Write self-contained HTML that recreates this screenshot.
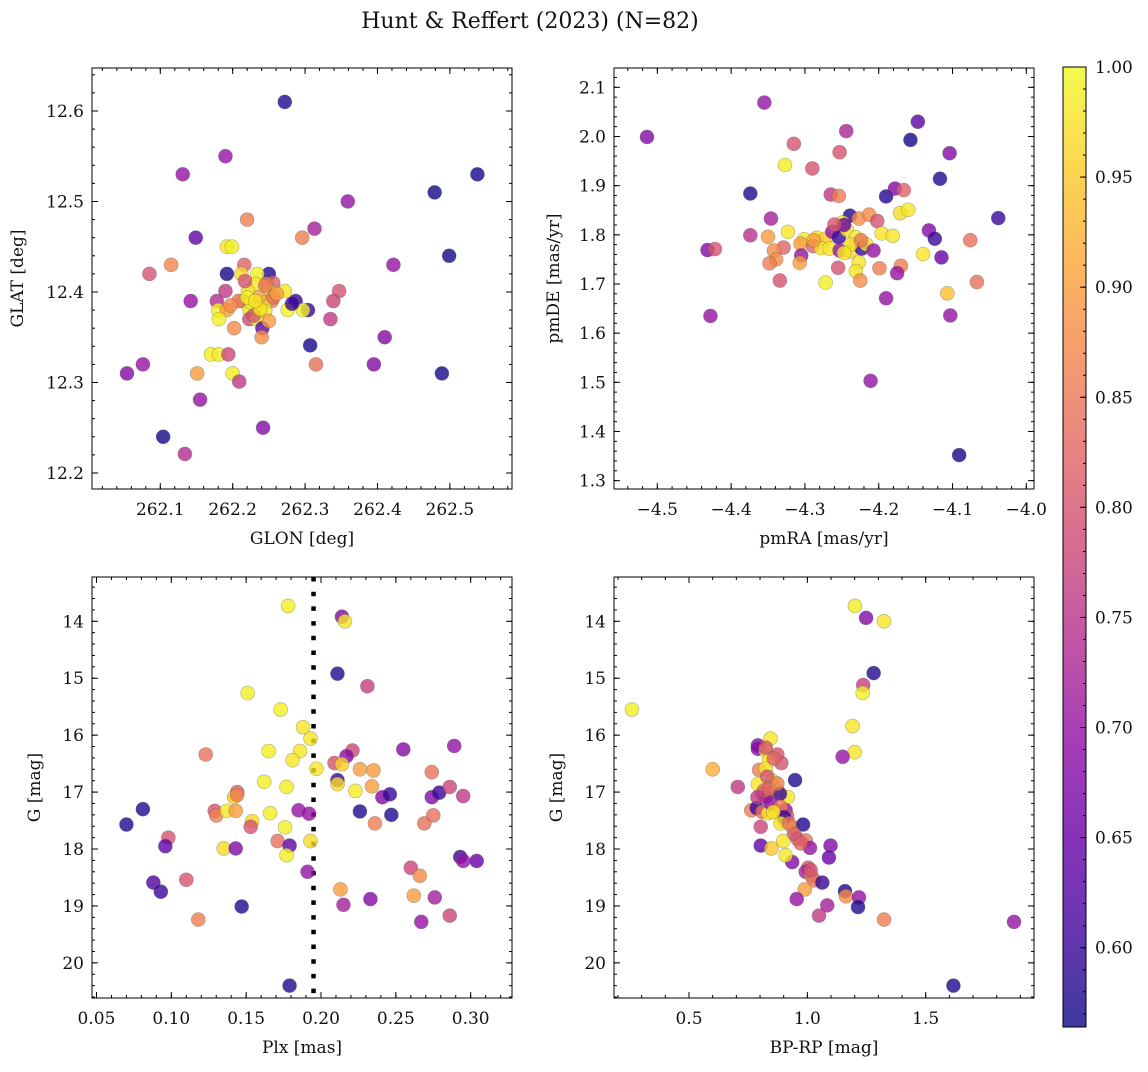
<!DOCTYPE html>
<html><head><meta charset="utf-8">
<style>
html,body{margin:0;padding:0;background:#fff;}
svg text{font-family:"DejaVu Serif","Liberation Serif",serif;fill:#111;}
</style></head>
<body>
<svg id="fig" width="1148" height="1067" viewBox="0 0 1148 1067" xmlns="http://www.w3.org/2000/svg">
<rect width="1148" height="1067" fill="#fff"/>
<text x="530" y="28" font-size="22" text-anchor="middle">Hunt &amp; Reffert (2023) (N=82)</text>
</svg>
<script>
// ---------- Panel 1: GLON vs GLAT ----------
const p1Glon=[262.272,262.190,262.131,262.538,262.479,262.359,262.220,262.313,262.296,262.149,262.192,262.199,262.499,262.115,262.422,262.085,262.192,262.216,262.212,262.250,262.234,262.256,262.246,262.232,262.190,262.221,262.250,262.272,262.347,262.142,262.178,262.214,262.254,262.287,262.339,262.245,262.180,262.192,262.223,262.237,262.276,262.304,262.297,262.223,262.181,262.233,262.335,262.241,262.202,262.240,262.410,262.307,262.170,262.181,262.194,262.315,262.395,262.076,262.054,262.151,262.200,262.489,262.209,262.155,262.242,262.104,262.134,262.226,262.236,262.217,262.245,262.256,262.229,262.208,262.250,262.282,262.238,262.197,262.220,262.231,262.261,262.245];
const p1Glat=[12.610,12.550,12.530,12.530,12.510,12.500,12.480,12.470,12.460,12.460,12.450,12.450,12.440,12.430,12.430,12.420,12.420,12.430,12.420,12.420,12.420,12.410,12.409,12.409,12.401,12.401,12.401,12.401,12.401,12.390,12.390,12.390,12.390,12.390,12.390,12.389,12.380,12.380,12.380,12.380,12.380,12.380,12.380,12.370,12.370,12.370,12.370,12.360,12.360,12.350,12.350,12.341,12.331,12.331,12.331,12.320,12.320,12.320,12.310,12.310,12.310,12.310,12.301,12.281,12.250,12.240,12.221,12.388,12.394,12.412,12.379,12.394,12.374,12.390,12.368,12.387,12.381,12.385,12.394,12.390,12.398,12.407];
const p1Prob=[0.58,0.70,0.70,0.57,0.57,0.70,0.86,0.72,0.86,0.64,0.98,0.99,0.57,0.87,0.70,0.80,0.57,0.82,0.97,0.58,0.99,0.82,0.88,0.98,0.76,0.98,0.98,0.98,0.80,0.70,0.74,0.86,0.86,0.60,0.78,0.98,0.99,0.90,0.98,0.99,0.99,0.60,0.99,0.78,0.99,0.99,0.76,0.64,0.88,0.88,0.68,0.57,0.99,0.99,0.78,0.84,0.68,0.70,0.68,0.90,0.99,0.57,0.76,0.70,0.68,0.57,0.74,0.99,0.90,0.80,0.98,0.84,0.80,0.85,0.90,0.60,0.98,0.88,0.99,0.98,0.90,0.85];
const p1XTicks=[262.1,262.2,262.3,262.4,262.5];
const p1XTickLabels=["262.1","262.2","262.3","262.4","262.5"];
const p1YTicks=[12.2,12.3,12.4,12.5,12.6];
const p1YTickLabels=["12.2","12.3","12.4","12.5","12.6"];

// ---------- Panel 2: pmRA vs pmDE ----------
const p2PmRA=[-4.355,-4.514,-4.147,-4.244,-4.157,-4.315,-4.104,-4.253,-4.327,-4.290,-4.117,-4.374,-4.265,-4.254,-4.190,-4.178,-4.166,-4.171,-4.160,-4.038,-4.346,-4.239,-4.227,-4.213,-4.202,-4.249,-4.374,-4.350,-4.323,-4.301,-4.284,-4.272,-4.263,-4.254,-4.243,-4.231,-4.196,-4.181,-4.132,-4.124,-4.076,-4.432,-4.422,-4.329,-4.342,-4.306,-4.289,-4.278,-4.267,-4.253,-4.239,-4.223,-4.217,-4.207,-4.140,-4.115,-4.305,-4.339,-4.348,-4.307,-4.227,-4.255,-4.199,-4.170,-4.175,-4.231,-4.334,-4.272,-4.225,-4.067,-4.107,-4.190,-4.428,-4.103,-4.211,-4.091,-4.247,-4.238,-4.260,-4.288,-4.224,-4.247];
const p2PmDE=[2.069,1.999,2.030,2.011,1.993,1.985,1.966,1.968,1.942,1.935,1.914,1.884,1.882,1.879,1.878,1.894,1.891,1.844,1.851,1.834,1.833,1.839,1.833,1.841,1.828,1.825,1.799,1.796,1.806,1.791,1.794,1.792,1.806,1.795,1.810,1.795,1.803,1.798,1.809,1.792,1.789,1.769,1.771,1.774,1.768,1.782,1.777,1.773,1.772,1.768,1.766,1.772,1.781,1.768,1.761,1.754,1.758,1.750,1.742,1.743,1.744,1.733,1.732,1.737,1.722,1.726,1.707,1.703,1.707,1.704,1.681,1.671,1.635,1.636,1.503,1.352,1.820,1.780,1.821,1.789,1.789,1.763];
const p2Prob=[0.70,0.68,0.63,0.73,0.57,0.80,0.68,0.80,0.99,0.80,0.58,0.58,0.76,0.86,0.58,0.68,0.82,0.97,0.98,0.60,0.72,0.58,0.88,0.88,0.80,0.98,0.75,0.90,0.98,0.98,0.98,0.95,0.70,0.60,0.98,0.98,0.98,0.98,0.68,0.60,0.84,0.68,0.80,0.82,0.88,0.90,0.82,0.98,0.98,0.70,0.97,0.60,0.98,0.70,0.98,0.65,0.70,0.88,0.86,0.90,0.98,0.80,0.86,0.86,0.70,0.98,0.80,0.99,0.88,0.84,0.94,0.70,0.70,0.70,0.70,0.57,0.65,0.97,0.80,0.90,0.85,0.98];
const p2XTicks=[-4.5,-4.4,-4.3,-4.2,-4.1,-4.0];
const p2XTickLabels=["−4.5","−4.4","−4.3","−4.2","−4.1","−4.0"];
const p2YTicks=[1.3,1.4,1.5,1.6,1.7,1.8,1.9,2.0,2.1];
const p2YTickLabels=["1.3","1.4","1.5","1.6","1.7","1.8","1.9","2.0","2.1"];

// ---------- Panel 3: Plx vs G ----------
const p3Plx=[0.178,0.214,0.216,0.211,0.231,0.151,0.173,0.188,0.193,0.123,0.165,0.186,0.181,0.197,0.221,0.217,0.209,0.214,0.255,0.289,0.226,0.235,0.274,0.162,0.177,0.211,0.211,0.223,0.234,0.144,0.142,0.241,0.246,0.274,0.279,0.286,0.295,0.081,0.070,0.129,0.130,0.137,0.143,0.166,0.185,0.192,0.154,0.153,0.176,0.226,0.247,0.236,0.269,0.275,0.098,0.096,0.135,0.143,0.171,0.179,0.177,0.193,0.191,0.293,0.295,0.304,0.260,0.266,0.088,0.093,0.110,0.213,0.233,0.215,0.262,0.276,0.147,0.118,0.267,0.286,0.179,0.144];
const p3G=[13.73,13.92,14.00,14.92,15.14,15.26,15.55,15.86,16.06,16.34,16.28,16.28,16.44,16.59,16.27,16.37,16.49,16.51,16.25,16.19,16.60,16.62,16.65,16.82,16.91,16.79,16.86,16.98,16.90,17.00,17.09,17.09,17.04,17.09,17.01,16.91,17.07,17.30,17.57,17.33,17.41,17.33,17.33,17.37,17.32,17.38,17.51,17.61,17.62,17.34,17.40,17.55,17.55,17.41,17.80,17.95,17.99,17.99,17.86,17.94,18.11,17.86,18.40,18.14,18.21,18.21,18.33,18.47,18.59,18.75,18.54,18.71,18.88,18.98,18.82,18.85,19.01,19.24,19.28,19.17,20.40,17.05];
const p3Prob=[0.99,0.68,0.98,0.58,0.77,0.99,0.99,0.98,0.98,0.84,0.99,0.98,0.98,0.98,0.78,0.68,0.80,0.96,0.68,0.70,0.90,0.90,0.84,0.99,0.99,0.60,0.97,0.99,0.90,0.82,0.95,0.68,0.60,0.68,0.60,0.78,0.76,0.58,0.58,0.80,0.86,0.98,0.90,0.99,0.70,0.70,0.97,0.80,0.99,0.58,0.58,0.86,0.84,0.84,0.80,0.64,0.97,0.68,0.84,0.64,0.99,0.97,0.70,0.60,0.70,0.65,0.78,0.88,0.62,0.60,0.80,0.90,0.68,0.72,0.90,0.72,0.58,0.86,0.70,0.78,0.58,0.86];
const p3XTicks=[0.05,0.10,0.15,0.20,0.25,0.30];
const p3XTickLabels=["0.05","0.10","0.15","0.20","0.25","0.30"];
const p3YTicks=[14,15,16,17,18,19,20];
const p3YTickLabels=["14","15","16","17","18","19","20"];
const p3PlxLine=[0.195];

// ---------- Panel 4: BP-RP vs G ----------
const p4BpRp=[1.201,1.248,1.324,1.280,1.236,1.234,0.259,1.191,0.844,1.200,1.149,0.791,0.791,0.824,0.873,0.890,0.838,0.600,0.796,0.824,0.948,0.706,0.791,0.852,0.870,0.810,0.824,0.918,0.884,0.763,0.786,0.810,0.834,0.866,0.908,0.915,0.904,0.938,0.982,0.803,0.958,0.993,1.011,1.098,1.091,0.803,0.848,0.898,0.936,0.908,1.004,0.993,1.017,1.028,1.063,0.989,0.955,1.084,1.049,1.159,1.163,1.218,1.214,1.324,1.873,1.617,0.859,0.831,0.817,0.845,0.887,0.901,0.944,0.972,0.887,0.856,0.789,0.838,0.873,0.922,1.014,0.824];
const p4G=[13.73,13.94,14.00,14.91,15.12,15.26,15.55,15.84,16.06,16.30,16.38,16.18,16.24,16.27,16.34,16.49,16.44,16.60,16.61,16.59,16.79,16.91,16.86,16.80,16.97,17.03,17.09,17.09,17.03,17.32,17.28,17.35,17.37,17.32,17.32,17.43,17.51,17.62,17.57,17.61,17.82,17.85,17.98,17.94,18.15,17.94,17.99,17.86,18.23,18.11,18.33,18.40,18.47,18.55,18.59,18.71,18.88,18.99,19.17,18.74,18.83,18.85,19.02,19.24,19.28,20.40,16.41,16.73,16.97,17.20,17.26,17.44,17.73,17.90,17.55,17.35,17.09,16.94,16.85,17.55,18.37,16.22];
const p4Prob=[0.99,0.68,0.98,0.58,0.77,0.99,0.99,0.98,0.98,0.98,0.70,0.68,0.68,0.98,0.80,0.80,0.98,0.92,0.86,0.98,0.58,0.76,0.98,0.98,0.98,0.80,0.70,0.98,0.60,0.86,0.60,0.84,0.98,0.95,0.70,0.80,0.97,0.98,0.58,0.78,0.82,0.84,0.70,0.68,0.65,0.64,0.95,0.98,0.68,0.98,0.80,0.72,0.86,0.84,0.60,0.90,0.70,0.72,0.76,0.58,0.88,0.70,0.58,0.86,0.70,0.58,0.82,0.80,0.84,0.70,0.86,0.60,0.80,0.82,0.98,0.98,0.76,0.82,0.86,0.84,0.80,0.80];
const p4XTicks=[0.5,1.0,1.5];
const p4XTickLabels=["0.5","1.0","1.5"];
const p4YTicks=[14,15,16,17,18,19,20];
const p4YTickLabels=["14","15","16","17","18","19","20"];

// ---------- Colorbar ----------
const cbTicks=[0.60,0.65,0.70,0.75,0.80,0.85,0.90,0.95,1.00];
const cbTickLabels=["0.60","0.65","0.70","0.75","0.80","0.85","0.90","0.95","1.00"];
const cbRange=[0.564,1.0];

const NS="http://www.w3.org/2000/svg";
const svg=document.getElementById('fig');
function mk(tag,attrs,parent){const e=document.createElementNS(NS,tag);for(const k in attrs)e.setAttribute(k,attrs[k]);(parent||svg).appendChild(e);return e;}

const plasma=[[13,8,135],[65,4,157],[106,0,168],[143,13,164],[177,42,144],[204,71,120],[225,100,98],[242,132,75],[252,166,54],[252,206,37],[240,249,33]];
function cmap(t){t=Math.max(0,Math.min(1,t));const s=t*10,i=Math.min(9,Math.floor(s)),f=s-i;const a=plasma[i],b=plasma[i+1];
  return 'rgb('+[0,1,2].map(k=>Math.round(a[k]+(b[k]-a[k])*f)).join(',')+')';}
function norm(p){return (p-cbRange[0])/(cbRange[1]-cbRange[0]);}

function minorRange(lo,hi,step){const out=[];let s=Math.ceil(lo/step-1e-9);for(let v=s*step;v<=hi+1e-9;v=(++s)*step)out.push(+v.toFixed(6));return out;}

const FS=17;
function panel(cfg){
  const g=mk('g',{});
  
  
  const {x0,x1,y0,y1,xd,yd}=cfg;
  const sx=v=>x0+(v-xd[0])/(xd[1]-xd[0])*(x1-x0);
  const sy=v=>y0+(v-yd[0])/(yd[1]-yd[0])*(y1-y0);
  const clip='clip-'+cfg.name;
  const cp=mk('clipPath',{id:clip},g);mk('rect',{x:x0,y:y0,width:x1-x0,height:y1-y0},cp);
  const pts=mk('g',{'clip-path':'url(#'+clip+')'},g);
  
  
  if(cfg.vline){cfg.vline.forEach(v=>{const l=mk('line',{x1:sx(v),x2:sx(v),y1:y0,y2:y1,stroke:'#000','stroke-width':4.5,'stroke-dasharray':'4.5 10.2'},pts);
    
    });}
  for(let i=0;i<cfg.xs.length;i++){
    const c=mk('circle',{cx:sx(cfg.xs[i]),cy:sy(cfg.ys[i]),r:7,fill:cmap(norm(cfg.ps[i])),'fill-opacity':0.8,stroke:'#555','stroke-opacity':0.45,'stroke-width':0.6},pts);
    
    
  }
  mk('rect',{x:x0,y:y0,width:x1-x0,height:y1-y0,fill:'none',stroke:'#000','stroke-width':1},g);
  const tg=mk('g',{stroke:'#000','stroke-width':1},g);
  cfg.xMinor.forEach(v=>{const x=sx(v);if(x<x0||x>x1)return;mk('line',{x1:x,x2:x,y1:y1,y2:y1-3},tg);mk('line',{x1:x,x2:x,y1:y0,y2:y0+3},tg);});
  cfg.yMinor.forEach(v=>{const y=sy(v);if(y<Math.min(y0,y1)||y>Math.max(y0,y1))return;mk('line',{x1:x0,x2:x0+3,y1:y,y2:y},tg);mk('line',{x1:x1,x2:x1-3,y1:y,y2:y},tg);});
  cfg.xTicks.forEach((v,i)=>{const x=sx(v);mk('line',{x1:x,x2:x,y1:y1,y2:y1-6},tg);mk('line',{x1:x,x2:x,y1:y0,y2:y0+6},tg);
    const t=mk('text',{x:x,y:y1+26,'font-size':FS,'text-anchor':'middle'},g);t.textContent=cfg.xLabels[i];
    
    });
  cfg.yTicks.forEach((v,i)=>{const y=sy(v);mk('line',{x1:x0,x2:x0+6,y1:y,y2:y},tg);mk('line',{x1:x1,x2:x1-6,y1:y,y2:y},tg);
    const t=mk('text',{x:x0-8,y:y+6,'font-size':FS,'text-anchor':'end'},g);t.textContent=cfg.yLabels[i];
    
    });
  const xl=mk('text',{x:(x0+x1)/2,y:y1+55,'font-size':FS,'text-anchor':'middle'},g);xl.textContent=cfg.xTitle;
  
  
  const ym=(y0+y1)/2;
  const yl=mk('text',{x:cfg.yTitleX,y:ym,'font-size':FS,'text-anchor':'middle',transform:'rotate(-90 '+cfg.yTitleX+' '+ym+')'},g);yl.textContent=cfg.yTitle;
  
  
}

panel({name:'glon-glat-panel',x0:92,x1:512,y0:68,y1:489,xd:[262.0057,262.5858],yd:[12.6475,12.1823],
  xs:p1Glon,ys:p1Glat,ps:p1Prob,xTicks:p1XTicks,xLabels:p1XTickLabels,yTicks:p1YTicks,yLabels:p1YTickLabels,
  xMinor:minorRange(262.0,262.6,0.02),yMinor:minorRange(12.18,12.66,0.02),xTitle:'GLON [deg]',yTitle:'GLAT [deg]',yTitleX:23});
panel({name:'proper-motion-panel',x0:614,x1:1034,y0:68,y1:489,xd:[-4.5587,-3.9896],yd:[2.1393,1.283],
  xs:p2PmRA,ys:p2PmDE,ps:p2Prob,xTicks:p2XTicks,xLabels:p2XTickLabels,yTicks:p2YTicks,yLabels:p2YTickLabels,
  xMinor:minorRange(-4.56,-3.98,0.02),yMinor:minorRange(1.28,2.14,0.02),xTitle:'pmRA [mas/yr]',yTitle:'pmDE [mas/yr]',yTitleX:559});
panel({name:'parallax-magnitude-panel',x0:92,x1:512,y0:577,y1:998,xd:[0.0470,0.3276],yd:[13.222,20.617],
  xs:p3Plx,ys:p3G,ps:p3Prob,xTicks:p3XTicks,xLabels:p3XTickLabels,yTicks:p3YTicks,yLabels:p3YTickLabels,vline:p3PlxLine,
  xMinor:minorRange(0.04,0.33,0.01),yMinor:minorRange(13.2,20.6,0.2),xTitle:'Plx [mas]',yTitle:'G [mag]',yTitleX:40});
panel({name:'color-magnitude-panel',x0:614,x1:1034,y0:577,y1:998,xd:[0.1831,1.9575],yd:[13.222,20.617],
  xs:p4BpRp,ys:p4G,ps:p4Prob,xTicks:p4XTicks,xLabels:p4XTickLabels,yTicks:p4YTicks,yLabels:p4YTickLabels,
  xMinor:minorRange(0.2,1.9,0.1),yMinor:minorRange(13.2,20.6,0.2),xTitle:'BP-RP [mag]',yTitle:'G [mag]',yTitleX:562});

(function(){
  const cx0=1063,cx1=1086,cy0=67,cy1=1027;
  const defs=mk('defs',{});
  const lg=mk('linearGradient',{id:'plasmaGrad',x1:0,y1:1,x2:0,y2:0},defs);
  for(let i=0;i<=20;i++){mk('stop',{offset:(i/20),'stop-color':cmap(i/20)},lg);}
  const g=mk('g',{});
  
  
  mk('rect',{x:cx0,y:cy0,width:cx1-cx0,height:cy1-cy0,fill:'url(#plasmaGrad)','fill-opacity':0.8},g);
  mk('rect',{x:cx0,y:cy0,width:cx1-cx0,height:cy1-cy0,fill:'none',stroke:'#000','stroke-width':1},g);
  const sy=v=>cy1-(v-cbRange[0])/(cbRange[1]-cbRange[0])*(cy1-cy0);
  minorRange(0.57,1.0,0.01).forEach(v=>mk('line',{x1:cx1,x2:cx1-3,y1:sy(v),y2:sy(v),stroke:'#000','stroke-width':1},g));
  cbTicks.forEach((v,i)=>{const y=sy(v);mk('line',{x1:cx1,x2:cx1-6,y1:y,y2:y,stroke:'#000','stroke-width':1},g);
    const t=mk('text',{x:cx1+9,y:y+6,'font-size':FS},g);t.textContent=cbTickLabels[i];
    
    });
})();
</script>
</body></html>
